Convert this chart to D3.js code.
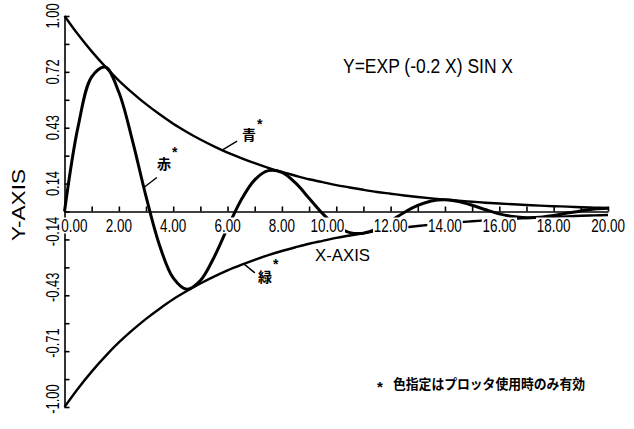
<!DOCTYPE html>
<html>
<head>
<meta charset="utf-8">
<script src="https://cdn.jsdelivr.net/npm/d3@7"></script>
<style>
  html, body { margin: 0; padding: 0; background: #fff; }
  svg { display: block; }
  text { font-family: 'Liberation Sans', Arial, sans-serif; fill: #000; }
  .jp { font-family: 'Noto Sans CJK JP', sans-serif; }
</style>
</head>
<body>
<div id="chart"></div>
<script>
// sample points, x = 0 .. 20 in steps of 0.5
const xs = [0, 0.5, 1, 1.5, 2, 2.5, 3, 3.5, 4, 4.5, 5, 5.5, 6, 6.5, 7, 7.5, 8, 8.5, 9, 9.5, 10,
  10.5, 11, 11.5, 12, 12.5, 13, 13.5, 14, 14.5, 15, 15.5, 16, 16.5, 17, 17.5, 18, 18.5, 19, 19.5, 20]
const sineY = [0, 0.434, 0.689, 0.739, 0.610, 0.363, 0.077, -0.174, -0.340, -0.398, -0.353, -0.235,
  -0.084, 0.059, 0.162, 0.209, 0.200, 0.146, 0.068, -0.011, -0.074, -0.108, -0.111, -0.088, -0.049,
  -0.005, 0.031, 0.054, 0.060, 0.051, 0.032, 0.009, -0.012, -0.026, -0.032, -0.030, -0.021, -0.008,
  0.003, 0.013, 0.017]
const upperY = [1, 0.905, 0.819, 0.741, 0.670, 0.607, 0.549, 0.497, 0.449, 0.407, 0.368, 0.333,
  0.301, 0.273, 0.247, 0.223, 0.202, 0.183, 0.165, 0.150, 0.135, 0.123, 0.111, 0.100, 0.091, 0.082,
  0.074, 0.067, 0.061, 0.055, 0.050, 0.045, 0.041, 0.037, 0.033, 0.030, 0.027, 0.025, 0.022, 0.020, 0.018]
const lowerY = [-1, -0.905, -0.819, -0.741, -0.670, -0.607, -0.549, -0.497, -0.449, -0.407, -0.368,
  -0.333, -0.301, -0.273, -0.247, -0.223, -0.202, -0.183, -0.165, -0.150, -0.135, -0.123, -0.111,
  -0.100, -0.091, -0.082, -0.074, -0.067, -0.061, -0.055, -0.050, -0.045, -0.041, -0.037, -0.033,
  -0.030, -0.027, -0.025, -0.022, -0.020, -0.018]

const xTickValues = [0, 2, 4, 6, 8, 10, 12, 14, 16, 18, 20]
const xTickLabels = ['0.00', '2.00', '4.00', '6.00', '8.00', '10.00', '12.00', '14.00', '16.00', '18.00', '20.00']
const yTickValues = [1, 0.714, 0.429, 0.143, -0.143, -0.429, -0.714, -1]
const yTickLabels = ['1.00', '0.72', '0.43', '0.14', '-0.14', '-0.43', '-0.71', '-1.00']

// colour notes: label, curve it points at, x where the leader touches
const notes = [
  { label: '赤', curve: 'sine', at: 2.92 },
  { label: '青', curve: 'upper', at: 5.8 },
  { label: '緑', curve: 'lower', at: 6.6 },
]

const title = 'Y=EXP (-0.2 X) SIN X'
const footnote = '色指定はプロッタ使用時のみ有効'

const W = 634, H = 429
const svg = d3.select('#chart').append('svg').attr('width', W).attr('height', H)

const x = d3.scaleLinear().domain([0, 20]).range([64.5, 608])
const y = d3.scaleLinear().domain([-1, 1]).range([407, 16])

const line = d3.line()
  .x((d, i) => x(xs[i]))
  .y(d => y(d))
  .curve(d3.curveCatmullRom.alpha(0.5))

// axes, ticks pointing into the plot
svg.append('g').attr('transform', `translate(0,${y(0)})`)
  .call(d3.axisBottom(x).tickValues(d3.range(1, 21)).tickSize(-5).tickSizeOuter(0).tickFormat(''))
svg.append('g').attr('transform', `translate(${x(0)},0)`)
  .call(d3.axisLeft(y).tickValues(d3.range(-7, 8).map(i => i / 7)).tickSize(-5).tickSizeOuter(0).tickFormat(''))
svg.selectAll('.domain, .tick line').attr('stroke', '#000').attr('stroke-width', 1.6)

// curves
svg.append('path').attr('d', line(upperY)).attr('fill', 'none').attr('stroke', '#000').attr('stroke-width', 2.4)
svg.append('path').attr('d', line(lowerY)).attr('fill', 'none').attr('stroke', '#000').attr('stroke-width', 2.4)
svg.append('path').attr('d', line(sineY)).attr('fill', 'none').attr('stroke', '#000').attr('stroke-width', 3)

// x tick labels, drawn on white so they hide the pen lines under them
xTickValues.forEach((v, i) => {
  const dx = v === 0 ? 10 : v === 10 ? -9 : 0
  const g = svg.append('g').attr('transform', `translate(${x(v) + dx},231.5) scale(0.75,1)`)
  const t = g.append('text').attr('text-anchor', 'middle').attr('font-size', 18).text(xTickLabels[i])
  const b = t.node().getBBox()
  g.insert('rect', 'text').attr('x', b.x - 1).attr('y', -14).attr('width', b.width + 2).attr('height', 16).attr('fill', '#fff')
})

// y tick labels, rotated
yTickValues.forEach((v, i) => {
  const shift = v < 0 ? -8 : 0
  svg.append('text')
    .attr('transform', `translate(59,${y(v) + shift}) rotate(-90) scale(0.68,1)`)
    .attr('text-anchor', 'middle').attr('font-size', 19)
    .text(yTickLabels[i])
})

svg.append('text').attr('transform', 'translate(25,205) rotate(-90)')
  .attr('text-anchor', 'middle').attr('font-size', 18)
  .attr('textLength', 72).attr('lengthAdjust', 'spacingAndGlyphs').text('Y-AXIS')

svg.append('text').attr('x', 315).attr('y', 261).attr('font-size', 17)
  .attr('textLength', 55).attr('lengthAdjust', 'spacingAndGlyphs').text('X-AXIS')

svg.append('text').attr('x', 343).attr('y', 73).attr('font-size', 20)
  .attr('textLength', 170).attr('lengthAdjust', 'spacingAndGlyphs').text(title)

// colour notes with leader lines
const curveOf = { sine: sineY, upper: upperY, lower: lowerY }
const noteStyle = {
  sine: { lead: [13, -10], text: [157, 169], star: [172, 157] },
  upper: { lead: [15, -9], text: [242, 140], star: [257, 129] },
  lower: { lead: [11, 9], text: [258, 282], star: [273, 269] },
}
notes.forEach(n => {
  const arr = curveOf[n.curve]
  const i = d3.bisectLeft(xs, n.at)
  const t = (n.at - xs[i - 1]) / (xs[i] - xs[i - 1])
  const px = x(n.at), py = y(arr[i - 1] + (arr[i] - arr[i - 1]) * t)
  const s = noteStyle[n.curve]
  svg.append('line').attr('x1', px).attr('y1', py).attr('x2', px + s.lead[0]).attr('y2', py + s.lead[1])
    .attr('stroke', '#000').attr('stroke-width', 1.4)
  svg.append('text').attr('class', 'jp').attr('x', s.text[0]).attr('y', s.text[1])
    .attr('font-size', 14).attr('font-weight', 'bold').text(n.label)
  svg.append('text').attr('x', s.star[0]).attr('y', s.star[1])
    .attr('font-size', 14).attr('font-weight', 'bold').text('*')
})

// footnote
svg.append('text').attr('x', 377).attr('y', 392).attr('font-size', 15).attr('font-weight', 'bold').text('*')
svg.append('text').attr('class', 'jp').attr('x', 393).attr('y', 389).attr('font-size', 13.5)
  .attr('font-weight', 'bold')
  .attr('textLength', 192).attr('lengthAdjust', 'spacingAndGlyphs').text(footnote)
</script>
</body>
</html>
